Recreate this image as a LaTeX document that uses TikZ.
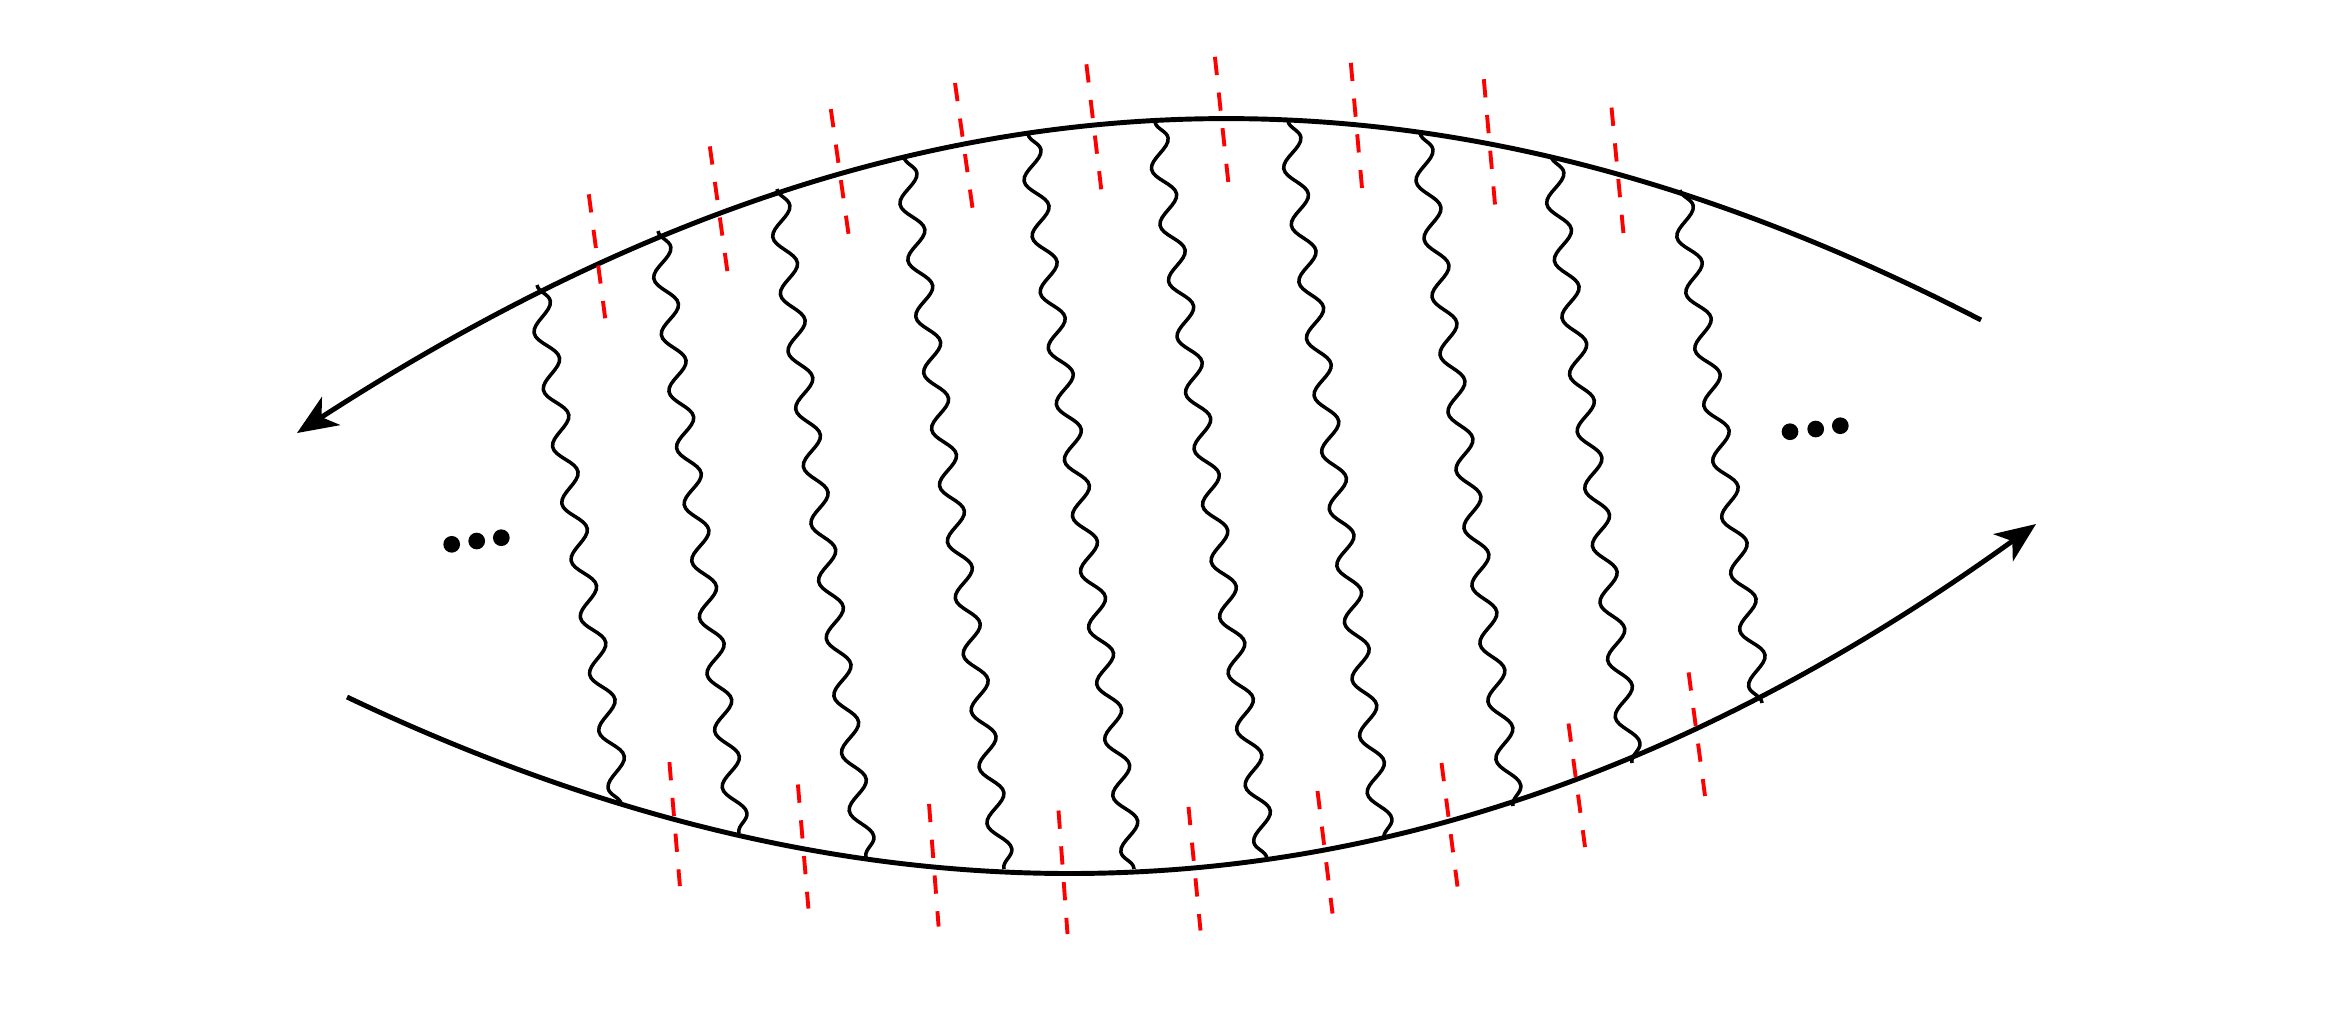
\documentclass[tikz,border=0pt]{standalone}
\usetikzlibrary{arrows.meta,decorations.pathmorphing}
\tikzset{
  fermion/.style={line width=1.4pt, black, line cap=butt},
  photon/.style={line width=1.0pt, black, decorate},
  cutline/.style={red, line width=1.1pt, dash pattern=on 5.2pt off 5pt},
  blob/.style={circle, fill=black, inner sep=0pt, minimum size=0.167cm},
  tip/.style={-{Stealth[length=11.5pt,width=9.5pt,inset=3.2pt]}}
}
\begin{document}
\begin{tikzpicture}[x=0.01cm,y=-0.01cm]
\useasboundingbox (0,0) rectangle (2343,1035);
% outer lines
\coordinate (TR) at (1981,320);
\coordinate (TL) at (297,433);
\coordinate (BL) at (347,697);
\coordinate (BR) at (2036,524);
\draw[fermion,tip] (TR) .. controls (1411,25) and (887,51) .. (TL);
\draw[fermion,tip] (BL) .. controls (907,963) and (1456,942) .. (BR);
% wavy lines
\foreach \i/\xa/\ya/\xb/\yb in {1/537/285/621.5/805, 2/658/231/739/833, 3/777/189/866/857, 4/904/157/1004/869, 5/1028/134/1134/869, 6/1155/122/1267/859, 7/1288/121/1384/839, 8/1420/133/1513/806, 9/1551/156/1632/763, 10/1680/190/1762/703}{
  \coordinate (t\i) at (\xa,\ya);
  \coordinate (b\i) at (\xb,\yb);
  \pgfmathsetmacro\len{veclen(\xb-\xa,\yb-\ya)*0.28453}
  \pgfmathsetmacro\nh{max(1,round((\len/16.4-0.625)/0.5))}
  \pgfmathsetmacro\seg{0.998*\len/(0.625+0.5*\nh)}
  \draw[photon, decoration={snake, amplitude=3pt, segment length=\seg pt}] (t\i) -- (b\i);
}
% red cut lines, top
\foreach \i/\xa/\ya/\xb/\yb in {1/588.8/194.3/605.2/318.3, 2/709.8/146.4/727.7/273.5, 3/830.8/109.1/848.8/236.1, 4/955/83/972.5/208, 5/1086.4/64.3/1101.3/189.8, 6/1214.9/56.8/1228.3/182.3, 7/1350.8/62.8/1362/188, 8/1483.8/79.2/1495/204.5, 9/1611.5/107.6/1623.5/234}{
  \coordinate (ru\i) at (\xa,\ya);
  \coordinate (rv\i) at (\xb,\yb);
  \draw[cutline] (ru\i) -- (rv\i);
}
% red cut lines, bottom
\foreach \i/\xa/\ya/\xb/\yb in {1/669.4/762.1/679.9/886.1, 2/797.9/784.5/808.4/908.5, 3/929/803.9/938.6/926.5, 4/1058.5/810.5/1067.5/934, 5/1188.5/806.9/1200.5/930.5, 6/1317.5/791/1332.5/913.5, 7/1441.5/763/1457.5/886.5, 8/1568.5/723.5/1585/847, 9/1688.6/672.4/1705/796}{
  \coordinate (rs\i) at (\xa,\ya);
  \coordinate (rt\i) at (\xb,\yb);
  \draw[cutline] (rs\i) -- (rt\i);
}
% dots
\node[blob] (dl1) at (451.7,544.3) {};
\node[blob] (dl2) at (476.7,541) {};
\node[blob] (dl3) at (501.3,537.7) {};
\node[blob] (dr1) at (1790,431.7) {};
\node[blob] (dr2) at (1815.7,429) {};
\node[blob] (dr3) at (1840.3,425.7) {};
\end{tikzpicture}
\end{document}
